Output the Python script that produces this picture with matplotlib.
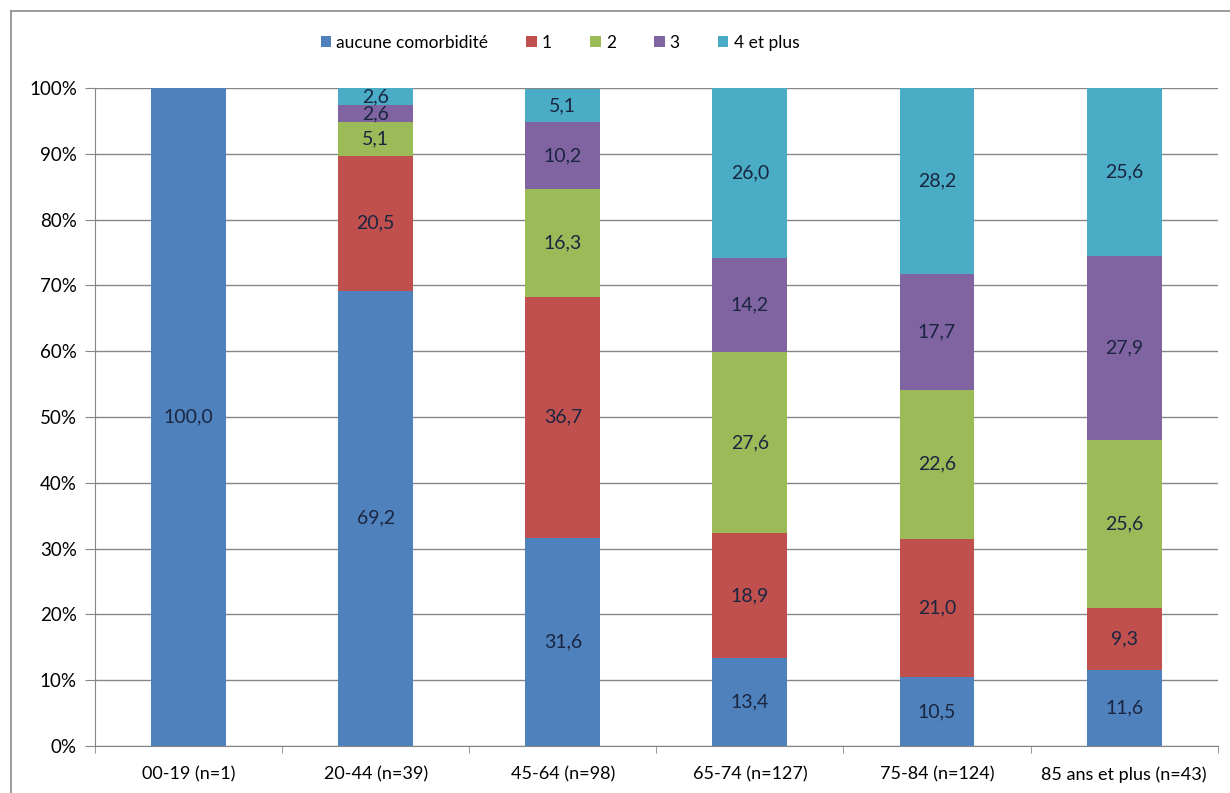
import matplotlib
matplotlib.use("Agg")
import matplotlib.pyplot as plt
from matplotlib.lines import Line2D
import numpy as np

# Répartition des comorbidités par tranche d'âge (%)
categories = ["00-19 (n=1)", "20-44 (n=39)", "45-64 (n=98)", "65-74 (n=127)",
              "75-84 (n=124)", "85 ans et plus (n=43)"]
series_names = ["aucune comorbidité", "1", "2", "3", "4 et plus"]
aucune = [100.0, 69.2, 31.6, 13.4, 10.5, 11.6]
une = [0.0, 20.5, 36.7, 18.9, 21.0, 9.3]
deux = [0.0, 5.1, 16.3, 27.6, 22.6, 25.6]
trois = [0.0, 2.6, 10.2, 14.2, 17.7, 27.9]
quatre_plus = [0.0, 2.6, 5.1, 26.0, 28.2, 25.6]
yticks = [0, 10, 20, 30, 40, 50, 60, 70, 80, 90, 100]

colors = ["#4F81BD", "#C0504D", "#9BBB59", "#8064A2", "#4BACC6"]
plt.rcParams['font.family'] = ['Lato', 'DejaVu Sans']

fig = plt.figure(figsize=(12.3, 7.93), dpi=100)
ax = fig.add_axes([0.0772, 0.0593, 0.9128, 0.8297])

x = np.arange(len(categories))
bottom = np.zeros(len(categories))
for name, vals, col in zip(series_names, [aucune, une, deux, trois, quatre_plus], colors):
    vals = np.array(vals)
    bars = ax.bar(x, vals, width=0.4, bottom=bottom, color=col, label=name, zorder=3)
    for b, v, y0 in zip(bars, vals, bottom):
        if v > 0:
            ax.text(b.get_x() + b.get_width() / 2, y0 + v / 2, f"{v:.1f}".replace(".", ","),
                    ha="center", va="center", fontsize=14, color="#1A2540", zorder=4)
    bottom += vals

ax.set_xlim(-0.5, len(categories) - 0.5)
ax.set_ylim(0, 100)
ax.set_yticks(yticks)
ax.set_yticklabels([f"{t}%" for t in yticks], fontsize=13.5)
ax.set_xticks(x)
ax.set_xticklabels(categories, fontsize=13)
ax.set_xticks(np.arange(-0.5, len(categories)), minor=True)
ax.tick_params(axis="x", which="major", length=0, pad=15)
ax.tick_params(axis="x", which="minor", length=5, color="#868686", direction="out")
ax.tick_params(axis="y", length=7, color="#868686", pad=6)

ax.yaxis.grid(True, color="#868686", linewidth=1, zorder=0)
for s in ["top", "right"]:
    ax.spines[s].set_visible(False)
ax.spines["left"].set_color("#868686")
ax.spines["bottom"].set_color("#868686")

fig.legend(*ax.get_legend_handles_labels(), loc="center",
           bbox_to_anchor=(560 / 1230, 0.9458), bbox_transform=fig.transFigure,
           ncol=5, frameon=False, fontsize=12.5, handlelength=0.6, handleheight=0.6,
           handletextpad=0.3, columnspacing=2.2)

# cadre du graphique
fig.add_artist(Line2D([0.0089, 0.0089], [0.0, 0.986], color="#8a8a8a", linewidth=1.2))
fig.add_artist(Line2D([0.0089, 1.0], [0.986, 0.986], color="#8a8a8a", linewidth=1.2))

fig.savefig("out.png", dpi=100, facecolor="white")
